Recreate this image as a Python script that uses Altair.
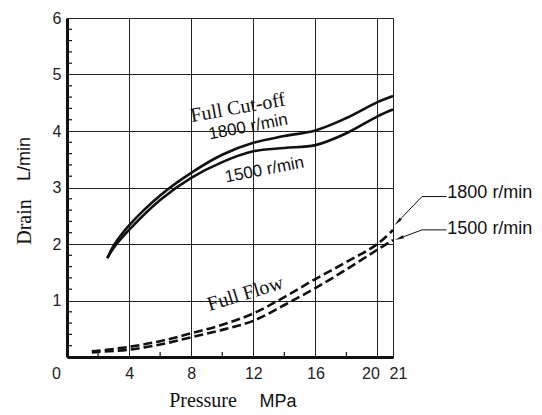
import altair as alt
import pandas as pd

# ---- data ----
cut_x_1800 = [2.6, 3, 4, 6, 8, 10, 12, 14, 16, 18, 20, 21]
cut_y_1800 = [1.75, 1.97, 2.33, 2.86, 3.26, 3.58, 3.79, 3.91, 4.01, 4.23, 4.51, 4.62]
cut_x_1500 = [2.6, 3, 4, 6, 8, 10, 12, 14, 16, 18, 20, 21]
cut_y_1500 = [1.75, 1.93, 2.25, 2.78, 3.17, 3.45, 3.64, 3.70, 3.75, 3.96, 4.26, 4.38]

flow_x_1800 = [1.6, 2, 4, 6, 8, 10, 12, 14, 16, 18, 20, 21]
flow_y_1800 = [0.10, 0.11, 0.18, 0.28, 0.42, 0.57, 0.77, 1.06, 1.38, 1.68, 2.00, 2.25]
flow_x_1500 = [1.6, 2, 4, 6, 8, 10, 12, 14, 16, 18, 20, 21]
flow_y_1500 = [0.08, 0.09, 0.13, 0.22, 0.35, 0.48, 0.64, 0.92, 1.22, 1.55, 1.90, 2.07]

x_ticks = [0, 4, 8, 12, 16, 20, 21]
y_ticks = [0, 1, 2, 3, 4, 5, 6]
x_minor = [2, 6, 10, 14, 18]
y_minor = [round(i * 0.2, 1) for i in range(1, 30) if i % 5 != 0]

# inline labels: text, x, y, angle, font, size
inline_text = ["Full Cut-off", "1800 r/min", "1500 r/min", "Full Flow"]
inline_x = [11.0, 11.67, 12.72, 11.48]
inline_y = [4.41, 4.07, 3.31, 1.12]
inline_angle = [350, 349, 349, 343]
inline_font = ["Liberation Serif", "Liberation Sans", "Liberation Sans", "Liberation Serif"]
inline_size = [20, 17, 17, 20]

# leader lines to the right-hand labels
side_text = ["1800 r/min", "1500 r/min"]
side_text_x = [24.5, 24.5]
side_text_y = [2.90, 2.27]
leader_h_x1 = [24.45, 24.45]
leader_h_x2 = [22.87, 22.87]
leader_h_y = [2.84, 2.25]
leader_tip_x = [21.3, 21.4]
leader_tip_y = [2.39, 2.10]
leader_angle = [224, 249]

W, H = 326, 339
BLACK = "#111111"

cut = pd.DataFrame({
    "x": cut_x_1800 + cut_x_1500,
    "y": cut_y_1800 + cut_y_1500,
    "s": ["1800"] * len(cut_x_1800) + ["1500"] * len(cut_x_1500),
})
flow = pd.DataFrame({
    "x": flow_x_1800 + flow_x_1500,
    "y": flow_y_1800 + flow_y_1500,
    "s": ["1800"] * len(flow_x_1800) + ["1500"] * len(flow_x_1500),
})

xscale = alt.Scale(domain=[0, 21], nice=False, zero=False)
yscale = alt.Scale(domain=[0, 6], nice=False, zero=False)

x_axis = alt.Axis(
    values=x_ticks, grid=True, gridColor="#222222", gridWidth=1,
    domain=True, domainColor=BLACK, domainWidth=3, ticks=False,
    labelFont="Liberation Sans", labelFontSize=16, labelColor="#222222",
    labelPadding=8, title=None, labelFlush=False, labelOverlap=False,
    labelOffset={"condition": [
        {"test": "datum.value == 0", "value": -11},
        {"test": "datum.value == 20", "value": -7},
        {"test": "datum.value == 21", "value": 5}], "value": 0},
)
y_axis = alt.Axis(
    values=y_ticks, grid=True, gridColor="#222222", gridWidth=1,
    domain=True, domainColor=BLACK, domainWidth=3, ticks=False,
    labelFont="Liberation Sans", labelFontSize=16, labelColor="#222222",
    labelPadding=6, title=None, labelFlush=False, labelOverlap=False,
    labelExpr="datum.value == 0 ? '' : datum.label",
)

X = alt.X("x:Q", scale=xscale, axis=x_axis)
Y = alt.Y("y:Q", scale=yscale, axis=y_axis)

cut_lines = alt.Chart(cut).mark_line(
    color=BLACK, strokeWidth=2.6, interpolate="catmull-rom"
).encode(x=X, y=Y, detail="s:N")

flow_lines = alt.Chart(flow).mark_line(
    color=BLACK, strokeWidth=2.6, strokeDash=[9, 4], interpolate="catmull-rom"
).encode(x=X, y=Y, detail="s:N")

# minor inward ticks
xm = alt.Chart(pd.DataFrame({"x": x_minor})).mark_rule(color=BLACK, strokeWidth=1.2).encode(
    x=X, y=alt.value(H), y2=alt.value(H - 5))
ym = alt.Chart(pd.DataFrame({"y": y_minor})).mark_rule(color=BLACK, strokeWidth=1.2).encode(
    y=Y, x=alt.value(0), x2=alt.value(5))

inline_layers = []
for t, xx, yy, a, f, s in zip(inline_text, inline_x, inline_y, inline_angle, inline_font, inline_size):
    inline_layers.append(
        alt.Chart(pd.DataFrame({"x": [xx], "y": [yy], "t": [t]})).mark_text(
            angle=a, font=f, fontSize=s, color=BLACK, align="center", baseline="middle"
        ).encode(x=X, y=Y, text="t:N")
    )

lead_h = pd.DataFrame({"x": leader_h_x1, "x2": leader_h_x2, "y": leader_h_y, "y2": leader_h_y})
lead_d = pd.DataFrame({"x": leader_h_x2, "x2": leader_tip_x, "y": leader_h_y, "y2": leader_tip_y})
leader_layers = [
    alt.Chart(d).mark_rule(color=BLACK, strokeWidth=1).encode(x=X, x2="x2:Q", y=Y, y2="y2:Q")
    for d in (lead_h, lead_d)
]
heads = alt.Chart(pd.DataFrame({"x": leader_tip_x, "y": leader_tip_y, "a": leader_angle})).mark_point(
    shape="M0,-1 L0.35,1 L-0.35,1 Z", filled=True, color=BLACK, size=80, opacity=1
).encode(x=X, y=Y, angle=alt.Angle("a:Q", scale=None))
side = alt.Chart(pd.DataFrame({"x": side_text_x, "y": side_text_y, "t": side_text})).mark_text(
    font="Liberation Sans", fontSize=18, color=BLACK, align="left", baseline="middle"
).encode(x=X, y=Y, text="t:N")

# axis titles (mixed serif / sans)
def title_text(t, px, py, font, size, angle=0, baseline="middle"):
    return alt.Chart(pd.DataFrame({"t": [t]})).mark_text(
        font=font, fontSize=size, color=BLACK, align="center", baseline=baseline, angle=angle
    ).encode(x=alt.value(px), y=alt.value(py), text="t:N")

titles = [
    title_text("Drain", -42, 204, "Liberation Serif", 20, 270),
    title_text("L/min", -42, 141, "Liberation Sans", 18, 270),
    title_text("Pressure", 136, 389, "Liberation Serif", 20, baseline="alphabetic"),
    title_text("MPa", 211, 389, "Liberation Sans", 18, baseline="alphabetic"),
]

chart = alt.layer(
    cut_lines, flow_lines, xm, ym, *inline_layers, *leader_layers, heads, side, *titles
).properties(
    width=W, height=H,
    autosize=alt.AutoSizeParams(type="none"),
    padding={"left": 59, "top": 10, "right": 141, "bottom": 56},
).configure_view(stroke=None).configure(background="white")

chart.save("out.html", embed_options={"renderer": "svg", "actions": False})
